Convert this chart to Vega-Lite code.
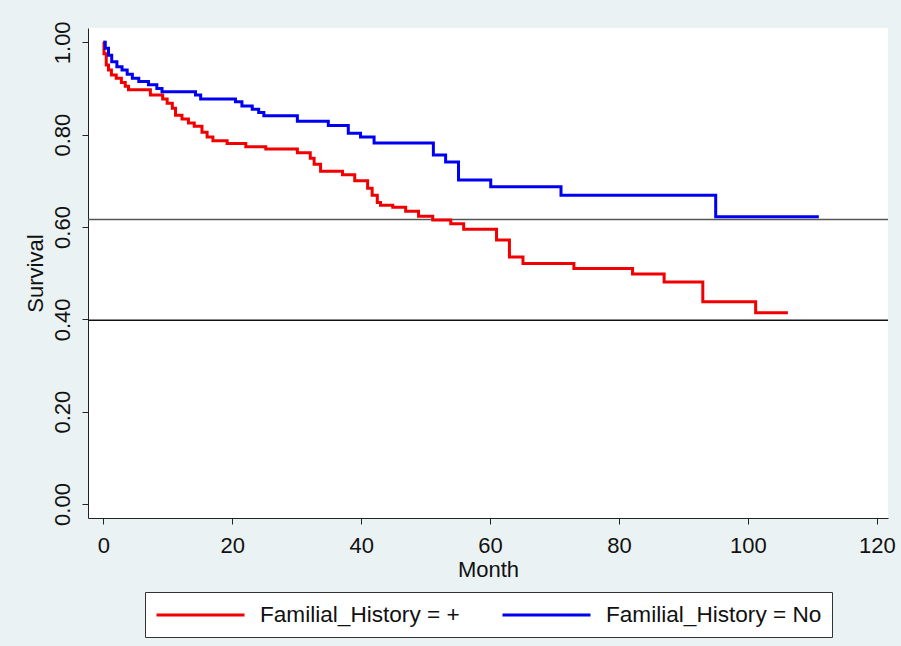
{
  "$schema": "https://vega.github.io/schema/vega-lite/v6.json",
  "autosize": "none",
  "padding": {"left": 88, "top": 28, "right": 13, "bottom": 128},
  "width": 800,
  "height": 490,
  "background": "#eaf2f3",
  "config": {
    "view": {"fill": "white", "stroke": null},
    "font": "Liberation Sans",
    "axis": {
      "grid": false,
      "domainColor": "#222222",
      "tickColor": "#222222",
      "tickSize": 6,
      "labelFontSize": 22,
      "titleFontSize": 22,
      "titleFontWeight": "normal",
      "labelColor": "#111111",
      "titleColor": "#111111",
      "labelFont": "Liberation Sans",
      "titleFont": "Liberation Sans"
    },
    "legend": {
      "layout": {"bottom": {"anchor": "middle"}}
    }
  },
  "datasets": {
    "km": [
      {"month": 0, "surv": 1.0, "group": "Familial_History = +"},
      {"month": 0.1, "surv": 0.975, "group": "Familial_History = +"},
      {"month": 0.45, "surv": 0.951, "group": "Familial_History = +"},
      {"month": 0.8, "surv": 0.94, "group": "Familial_History = +"},
      {"month": 1.25, "surv": 0.929, "group": "Familial_History = +"},
      {"month": 2.0, "surv": 0.922, "group": "Familial_History = +"},
      {"month": 2.8, "surv": 0.913, "group": "Familial_History = +"},
      {"month": 3.4, "surv": 0.905, "group": "Familial_History = +"},
      {"month": 3.9, "surv": 0.897, "group": "Familial_History = +"},
      {"month": 7.3, "surv": 0.886, "group": "Familial_History = +"},
      {"month": 9.2, "surv": 0.877, "group": "Familial_History = +"},
      {"month": 9.9, "surv": 0.868, "group": "Familial_History = +"},
      {"month": 10.7, "surv": 0.857, "group": "Familial_History = +"},
      {"month": 11.2, "surv": 0.842, "group": "Familial_History = +"},
      {"month": 12.2, "surv": 0.834, "group": "Familial_History = +"},
      {"month": 13.2, "surv": 0.825, "group": "Familial_History = +"},
      {"month": 14.1, "surv": 0.818, "group": "Familial_History = +"},
      {"month": 15.3, "surv": 0.805, "group": "Familial_History = +"},
      {"month": 16.1, "surv": 0.795, "group": "Familial_History = +"},
      {"month": 17.0, "surv": 0.787, "group": "Familial_History = +"},
      {"month": 19.2, "surv": 0.781, "group": "Familial_History = +"},
      {"month": 22.1, "surv": 0.774, "group": "Familial_History = +"},
      {"month": 25.2, "surv": 0.769, "group": "Familial_History = +"},
      {"month": 30.1, "surv": 0.761, "group": "Familial_History = +"},
      {"month": 32.1, "surv": 0.749, "group": "Familial_History = +"},
      {"month": 32.7, "surv": 0.736, "group": "Familial_History = +"},
      {"month": 33.7, "surv": 0.721, "group": "Familial_History = +"},
      {"month": 37.1, "surv": 0.713, "group": "Familial_History = +"},
      {"month": 39.0, "surv": 0.7, "group": "Familial_History = +"},
      {"month": 41.0, "surv": 0.684, "group": "Familial_History = +"},
      {"month": 41.7, "surv": 0.669, "group": "Familial_History = +"},
      {"month": 42.5, "surv": 0.653, "group": "Familial_History = +"},
      {"month": 43.0, "surv": 0.647, "group": "Familial_History = +"},
      {"month": 44.9, "surv": 0.643, "group": "Familial_History = +"},
      {"month": 46.9, "surv": 0.634, "group": "Familial_History = +"},
      {"month": 48.9, "surv": 0.623, "group": "Familial_History = +"},
      {"month": 51.1, "surv": 0.615, "group": "Familial_History = +"},
      {"month": 53.9, "surv": 0.607, "group": "Familial_History = +"},
      {"month": 55.9, "surv": 0.595, "group": "Familial_History = +"},
      {"month": 61.0, "surv": 0.572, "group": "Familial_History = +"},
      {"month": 63.0, "surv": 0.535, "group": "Familial_History = +"},
      {"month": 65.1, "surv": 0.521, "group": "Familial_History = +"},
      {"month": 73.0, "surv": 0.51, "group": "Familial_History = +"},
      {"month": 82.1, "surv": 0.498, "group": "Familial_History = +"},
      {"month": 87.0, "surv": 0.481, "group": "Familial_History = +"},
      {"month": 93.0, "surv": 0.438, "group": "Familial_History = +"},
      {"month": 101.2, "surv": 0.414, "group": "Familial_History = +"},
      {"month": 106.2, "surv": 0.414, "group": "Familial_History = +"},
      {"month": 0, "surv": 1.0, "group": "Familial_History = No"},
      {"month": 0.3, "surv": 0.987, "group": "Familial_History = No"},
      {"month": 0.8, "surv": 0.972, "group": "Familial_History = No"},
      {"month": 1.3, "surv": 0.958, "group": "Familial_History = No"},
      {"month": 2.1, "surv": 0.947, "group": "Familial_History = No"},
      {"month": 2.9, "surv": 0.94, "group": "Familial_History = No"},
      {"month": 3.7, "surv": 0.931, "group": "Familial_History = No"},
      {"month": 4.5, "surv": 0.922, "group": "Familial_History = No"},
      {"month": 5.5, "surv": 0.915, "group": "Familial_History = No"},
      {"month": 7.0, "surv": 0.908, "group": "Familial_History = No"},
      {"month": 8.3, "surv": 0.9, "group": "Familial_History = No"},
      {"month": 9.1, "surv": 0.893, "group": "Familial_History = No"},
      {"month": 14.3, "surv": 0.886, "group": "Familial_History = No"},
      {"month": 15.1, "surv": 0.877, "group": "Familial_History = No"},
      {"month": 20.5, "surv": 0.871, "group": "Familial_History = No"},
      {"month": 21.5, "surv": 0.862, "group": "Familial_History = No"},
      {"month": 23.1, "surv": 0.855, "group": "Familial_History = No"},
      {"month": 24.1, "surv": 0.848, "group": "Familial_History = No"},
      {"month": 24.9, "surv": 0.841, "group": "Familial_History = No"},
      {"month": 30.1, "surv": 0.829, "group": "Familial_History = No"},
      {"month": 34.9, "surv": 0.82, "group": "Familial_History = No"},
      {"month": 38.0, "surv": 0.803, "group": "Familial_History = No"},
      {"month": 39.9, "surv": 0.795, "group": "Familial_History = No"},
      {"month": 42.0, "surv": 0.782, "group": "Familial_History = No"},
      {"month": 51.2, "surv": 0.756, "group": "Familial_History = No"},
      {"month": 53.1, "surv": 0.741, "group": "Familial_History = No"},
      {"month": 55.1, "surv": 0.702, "group": "Familial_History = No"},
      {"month": 60.1, "surv": 0.687, "group": "Familial_History = No"},
      {"month": 71.0, "surv": 0.669, "group": "Familial_History = No"},
      {"month": 95.0, "surv": 0.622, "group": "Familial_History = No"},
      {"month": 111.0, "surv": 0.622, "group": "Familial_History = No"}
    ],
    "refs": [
      {"level": 0.616, "kind": "a"},
      {"level": 0.398, "kind": "b"}
    ]
  },
  "layer": [
    {
      "data": {"name": "refs"},
      "mark": {"type": "rule", "strokeWidth": 1.5},
      "encoding": {
        "y": {"field": "level", "type": "quantitative", "scale": {"domain": [-0.0303, 1.031], "nice": false, "zero": false}},
        "color": {"field": "kind", "type": "nominal", "scale": {"domain": ["a", "b"], "range": ["#555555", "#111111"]}, "legend": null}
      }
    },
    {
      "data": {"name": "km"},
      "mark": {"type": "line", "interpolate": "step-after", "strokeWidth": 3},
      "encoding": {
        "x": {
          "field": "month", "type": "quantitative", "title": "Month",
          "scale": {"domain": [-2.38, 121.73], "nice": false, "zero": false},
          "axis": {"values": [0, 20, 40, 60, 80, 100, 120], "format": "d", "labelPadding": 11, "titlePadding": 3}
        },
        "y": {
          "field": "surv", "type": "quantitative", "title": "Survival",
          "scale": {"domain": [-0.0303, 1.031], "nice": false, "zero": false},
          "axis": {"values": [0, 0.2, 0.4, 0.6, 0.8, 1.0], "format": ".2f", "labelAngle": -90, "labelPadding": 8, "titlePadding": 4}
        },
        "stroke": {
          "field": "group", "type": "nominal",
          "scale": {"domain": ["Familial_History = +", "Familial_History = No"], "range": ["#f00000", "#0000f0"]},
          "legend": {
            "title": null,
            "orient": "bottom",
            "direction": "horizontal",
            "symbolType": "M-1,0L7,0",
            "symbolSize": 484,
            "symbolStrokeWidth": 3,
            "symbolFillColor": "transparent",
            "labelFontSize": 22.6,
            "labelFont": "Liberation Sans",
            "labelColor": "#111111",
            "labelLimit": 400,
            "labelOffset": 80,
            "columnPadding": 36,
            "padding": 10,
            "strokeColor": "#333333",
            "fillColor": "white",
            "offset": 12
          }
        }
      }
    }
  ],
  "resolve": {"scale": {"color": "independent"}}
}
